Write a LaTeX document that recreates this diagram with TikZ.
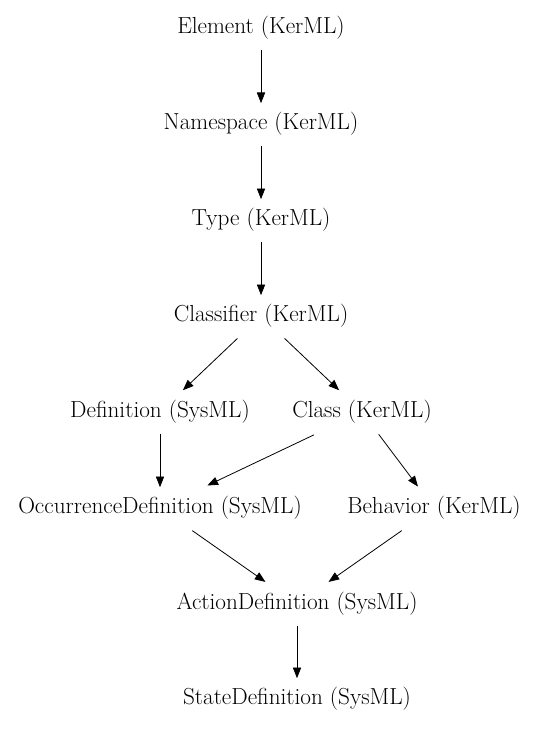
\documentclass[tikz,border=0pt]{standalone}
\usepackage{tikz}
\usetikzlibrary{arrows.meta}

\tikzset{
  elem/.style={inner sep=0pt, minimum height=35.25pt, font=\fontsize{17.4}{20}\selectfont},
  gen/.style={-{Triangle[length=8pt, width=6.2pt]}, line width=0.6pt, shorten <=-1.5pt, shorten >=-2.2pt}
}

\begin{document}
\begin{tikzpicture}[x=0.75pt, y=-0.75pt]
\useasboundingbox (0,0) rectangle (535,731);
\path
(261,28) node[elem] (element){Element (KerML)};
\path
(261,124) node[elem] (namespace){Namespace (KerML)};
\path
(261,220) node[elem] (type){Type (KerML)};
\path
(261,316) node[elem] (classifier){Classifier (KerML)};
\path
(160,412) node[elem] (definition){Definition (SysML)};
\path
(362,412) node[elem] (class){Class (KerML)};
\path
(160,508) node[elem] (occdef){OccurrenceDefinition (SysML)};
\path
(434,508) node[elem] (behavior){Behavior (KerML)};
\path
(297,604) node[elem] (actiondef){ActionDefinition (SysML)};
\path
(297,699) node[elem] (statedef){StateDefinition (SysML)};
\draw[gen] (element) -- (namespace);
\draw[gen] (namespace) -- (type);
\draw[gen] (type) -- (classifier);
\draw[gen] (classifier) -- (definition);
\draw[gen] (classifier) -- (class);
\draw[gen] (definition) -- (occdef);
\draw[gen] (class) -- (occdef);
\draw[gen] (class) -- (behavior);
\draw[gen] (occdef) -- (actiondef);
\draw[gen] (behavior) -- (actiondef);
\draw[gen] (actiondef) -- (statedef);
\end{tikzpicture}
\end{document}
